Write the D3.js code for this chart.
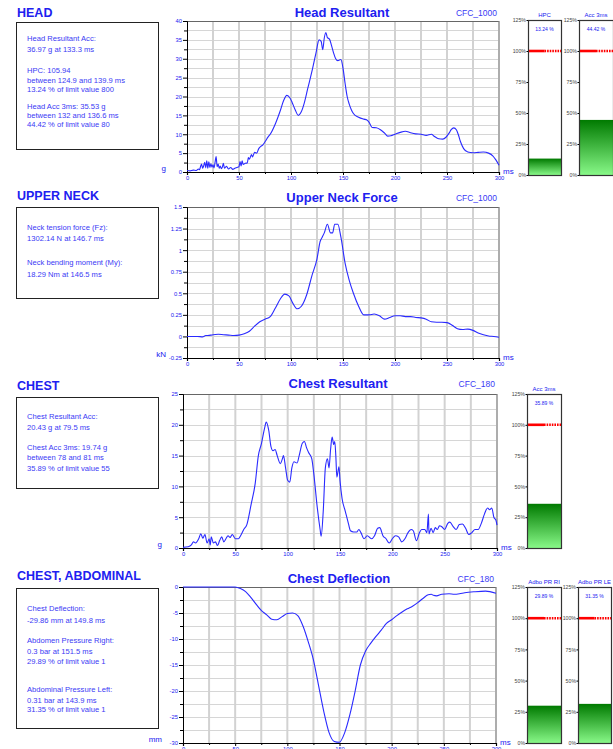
<!DOCTYPE html>
<html>
<head>
<meta charset="utf-8">
<script src="https://cdn.jsdelivr.net/npm/d3@7"></script>
<style>
  body { margin: 0; background: #fff; }
  svg { display: block; font-family: 'Liberation Sans', Arial, sans-serif; }
</style>
</head>
<body>
<div id="chart"></div>
<script>
// ---- data ----
const headTime = [0,3,6,9,11,12,13,14,15,16,17,18,19,20,21,22,23,24,25,26,27,28,29,30,31,32,33,34,35,36,38,40,42,44,46,48,50,51,52,53,54,56,58,59,60,62,63,65,67,69,71,73,75,78,80,85,90,93,96,99,101,104,107,110,113,116,120,124,127,129,130.5,132,133.5,135,137,139,141,143,145,148,150,152,154,156,158,160,165,170,173,175,178,182,186,190,193,196,200,205,210,215,220,225,230,235,238,242,246,249,252,254,256.5,259,261,263,266,270,275,280,285,290,294,297,300]
const headAcc = [0.4,0.3,0.5,0.4,0.8,0.6,1.4,2.1,1.0,1.6,2.6,1.1,3.0,1.0,2.7,1.2,2.2,1.3,1.9,1.1,2.6,4.1,1.4,2.1,1.0,1.6,0.9,1.3,2.3,1.0,1.5,0.8,1.2,0.7,1.0,1.2,1.4,2.8,1.6,3.0,2.0,2.3,2.4,3.8,3.4,4.6,4.0,5.2,5.0,6.2,6.8,7.2,8.0,9.3,10.0,12.8,16.5,19.0,20.3,19.6,18.5,16.5,15.0,16.0,18.5,22.0,26.5,31.5,35.0,34.6,32.4,35.5,36.97,35.6,35.2,33.5,31.5,30.0,29.5,29.8,27.5,23.5,20.0,18.0,16.5,15.5,14.5,14.0,13.8,13.2,11.8,11.7,11.2,10.3,9.5,9.6,10.0,10.5,10.8,10.4,10.1,10.0,9.7,10.0,9.4,8.8,8.7,9.2,10.3,11.2,11.7,11.2,9.8,8.0,6.2,5.3,5.1,5.2,5.3,5.0,4.3,3.2,1.8]

const neckTime = [0,10,15,18,20,25,30,35,40,45,50,55,60,65,70,75,80,85,90,94,98,102,106,110,115,120,125,128,130,132,135,138,140,142,145,148,152,156,160,165,170,175,180,185,190,195,200,205,210,215,220,225,230,235,240,245,250,255,260,265,270,275,280,285,290,295,300]
const neckForce = [0,0,-0.005,0.01,0.01,0.02,0.025,0.02,0.015,0.01,0.015,0.03,0.06,0.12,0.17,0.2,0.23,0.33,0.44,0.49,0.47,0.38,0.32,0.35,0.48,0.7,0.9,1.1,1.15,1.2,1.3,1.2,1.2,1.3,1.3,1.15,0.85,0.65,0.5,0.35,0.25,0.25,0.26,0.24,0.2,0.22,0.24,0.24,0.23,0.23,0.22,0.215,0.2,0.17,0.165,0.165,0.16,0.13,0.09,0.08,0.085,0.07,0.04,0.02,0.005,0,-0.01]

const chestTime = [0,5,8,10,12,15,17,19,21,23,25,26,27,29,31,33,35,37,39,41,43,45,47,50,53,55,58,61,65,69,72,75,78,79.5,82,84,86,88,90,93,95,96,98,100,102,104,106,109,111,114,116,118,120,123,125,128,131,132,134,136,138,139.5,141,142.5,144,145,146,147,149,150,152,155,158,160,163,166,168,170,173,176,180,183,186,188,191,194,197,200,203,206,209,212,215,218,220,223,226,228,231,233,234.5,235,237,239,241,243,245,247,250,253,255,258,261,264,267,270,273,276,279,282,285,288,291,293,295,297,299,300]
const chestAcc = [0.1,0.2,0.5,1.0,0.8,1.5,2.3,1.6,2.2,0.8,1.5,0.5,1.8,0.8,1.0,0.4,1.2,1.8,1.0,1.5,2.0,1.7,2.2,1.5,1.5,2.0,3.0,3.8,7.0,10.5,15.0,17.0,19.5,20.43,19.0,16.5,15.8,16.0,15.0,13.7,14.5,15.0,13.0,11.0,10.7,13.0,14.0,13.8,15.0,17.0,17.3,16.3,15.5,14.5,12.0,7.0,3.0,1.9,6.0,13.0,14.5,13.0,16.0,18.0,16.8,17.3,15.0,11.5,13.2,11.0,8.0,6.0,4.0,2.8,2.6,2.6,3.0,2.5,1.5,2.0,1.5,2.0,3.2,3.3,2.0,1.5,0.8,1.5,2.0,1.8,1.0,1.5,2.5,3.0,2.8,1.2,2.5,3.0,3.0,2.5,5.5,2.3,3.2,2.5,3.3,3.0,3.6,3.5,3.0,4.0,4.2,3.5,3.0,3.8,3.9,3.2,2.2,2.5,3.0,3.0,4.0,5.5,6.5,6.2,6.5,5.0,4.5,3.7]

const deflTime = [0,50,55,60,65,70,75,80,85,90,95,100,105,110,115,120,125,130,135,140,145,149.8,155,160,165,170,175,180,185,190,195,200,205,210,215,220,225,230,235,238,240,243,248,255,260,265,270,280,290,300]
const deflValue = [0,0,-0.3,-0.9,-2,-3.3,-4.5,-5.3,-6.2,-6.3,-5.7,-5.1,-5,-5.5,-7.5,-10.5,-14,-19,-24,-28,-29.7,-29.86,-28,-24.5,-20,-15,-12.3,-10.8,-9.5,-8.3,-7,-6.3,-5.5,-4.8,-4.2,-3.7,-3,-2.2,-1.5,-1.4,-1.6,-1.7,-1.4,-1.3,-1.4,-1.3,-1.1,-0.9,-0.8,-1.2]

const xTicks = [0,50,100,150,200,250,300]
const headYTicks = [0,5,10,15,20,25,30,35,40]
const neckYTicks = [-0.25,0,0.25,0.5,0.75,1,1.25,1.5]
const chestYTicks = [0,5,10,15,20,25]
const deflYTicks = [-30,-25,-20,-15,-10,-5,0]
const gaugeTicks = [0,25,50,75,100,125]

const sectionNames = ['HEAD', 'UPPER NECK', 'CHEST', 'CHEST, ABDOMINAL']
const chartTitles = ['Head Resultant', 'Upper Neck Force', 'Chest Resultant', 'Chest Deflection']
const filterLabels = ['CFC_1000', 'CFC_1000', 'CFC_180', 'CFC_180']
const unitLabels = ['g', 'kN', 'g', 'mm']

const headInfo = ['Head Resultant Acc:', '36.97 g at 133.3 ms', 'HPC: 105.94', 'between 124.9 and 139.9 ms', '13.24 % of limit value 800', 'Head Acc 3ms: 35.53 g', 'between 132 and 136.6 ms', '44.42 % of limit value 80']
const neckInfo = ['Neck tension force (Fz):', '1302.14 N at 146.7 ms', 'Neck bending moment (My):', '18.29 Nm at 146.5 ms']
const chestInfo = ['Chest Resultant Acc:', '20.43 g at 79.5 ms', 'Chest Acc 3ms: 19.74 g', 'between 78 and 81 ms', '35.89 % of limit value 55']
const abdoInfo = ['Chest Deflection:', '-29.86 mm at 149.8 ms', 'Abdomen Pressure Right:', '0.3 bar at 151.5 ms', '29.89 % of limit value 1', 'Abdominal Pressure Left:', '0.31 bar at 143.9 ms', '31.35 % of limit value 1']

const gaugeNames = ['HPC', 'Acc 3ms', 'Acc 3ms', 'Adbo PR RI', 'Adbo PR LE']
const gaugePercent = [13.24, 44.42, 35.89, 29.89, 31.35]

// ---- drawing ----
const blue = '#2020f0'
const textBlue = '#3a3af5'

const svg = d3.select('#chart').append('svg').attr('width', 613).attr('height', 749)

const defs = svg.append('defs')
const grad = defs.append('linearGradient').attr('id', 'greenFill')
  .attr('x1', 0).attr('y1', 0).attr('x2', 0).attr('y2', 1)
grad.append('stop').attr('offset', '0%').attr('stop-color', '#007a00')
grad.append('stop').attr('offset', '100%').attr('stop-color', '#88f888')

// left heading + info box
const drawInfo = (heading, headingY, box, lines, lineYs) => {
  svg.append('text').attr('x', 17).attr('y', headingY)
    .attr('font-size', 12.5).attr('font-weight', 'bold').attr('fill', blue)
    .text(heading)
  svg.append('rect').attr('x', box[0] + 0.5).attr('y', box[1] + 0.5)
    .attr('width', box[2]).attr('height', box[3])
    .attr('fill', 'none').attr('stroke', '#222').attr('stroke-width', 1)
  lines.forEach((l, i) => {
    svg.append('text').attr('x', 27).attr('y', lineYs[i])
      .attr('font-size', 7.6).attr('fill', textBlue).text(l)
  })
}

drawInfo(sectionNames[0], 17, [16, 22, 142, 127], headInfo, [41, 52, 73, 82.5, 92, 109, 118, 126.5])
drawInfo(sectionNames[1], 200, [16, 207, 142, 91], neckInfo, [229.5, 241, 264.5, 276.5])
drawInfo(sectionNames[2], 390, [16, 397, 142, 91], chestInfo, [418.5, 430, 450, 460, 471])
drawInfo(sectionNames[3], 580, [16, 588, 142, 140], abdoInfo, [610.5, 623, 643, 654, 664, 691.5, 702.5, 712])

// a time-history panel
const drawPanel = (cfg) => {
  const { left, right, top, bottom, domain, yTicks, minorStep, times, values, idx, titleX, titleY, yFormat } = cfg
  const xScale = d3.scaleLinear().domain([0, 300]).range([left, right])
  const yScale = d3.scaleLinear().domain(domain).range([bottom, top])
  const g = svg.append('g')

  // minor horizontal grid
  const minorY = d3.range(domain[0], domain[1] + minorStep / 2, minorStep)
  g.selectAll('.hgrid').data(minorY).join('line')
    .attr('x1', left).attr('x2', right)
    .attr('y1', d => Math.round(yScale(d)) + 0.5).attr('y2', d => Math.round(yScale(d)) + 0.5)
    .attr('stroke', '#d6d6d6').attr('stroke-width', 1.2)
  // vertical grid every 25 ms
  g.selectAll('.vgrid').data(d3.range(25, 301, 25)).join('line')
    .attr('x1', d => xScale(d)).attr('x2', d => xScale(d))
    .attr('y1', top).attr('y2', bottom)
    .attr('stroke', '#d2d2d2').attr('stroke-width', 2)
  // frame top / right
  g.append('line').attr('x1', left).attr('x2', right).attr('y1', top + 0.5).attr('y2', top + 0.5)
    .attr('stroke', '#666').attr('stroke-width', 1.2)
  g.append('line').attr('x1', right).attr('x2', right).attr('y1', top).attr('y2', bottom)
    .attr('stroke', '#888').attr('stroke-width', 1)

  // y axis
  const yAxis = d3.axisLeft(yScale).tickValues(yTicks).tickSize(4).tickPadding(1).tickFormat(yFormat)
  const yg = g.append('g').attr('transform', `translate(${left},0)`).call(yAxis)
  yg.selectAll('text').attr('font-size', 5.8).attr('fill', blue)
  yg.select('.domain').attr('stroke', '#000')
  const minorAxis = d3.axisLeft(yScale).tickValues(minorY.filter(v => !yTicks.includes(+v.toFixed(4)))).tickSize(3).tickFormat('')
  g.append('g').attr('transform', `translate(${left},0)`).call(minorAxis).select('.domain').remove()

  // x axis
  const xAxis = d3.axisBottom(xScale).tickValues(xTicks).tickSize(3).tickPadding(1)
  const xg = g.append('g').attr('transform', `translate(0,${bottom})`).call(xAxis)
  xg.selectAll('text').attr('font-size', 5.8).attr('fill', blue)
  xg.select('.domain').attr('stroke', '#000').attr('stroke-width', 1.2)
  const xMinor = d3.axisBottom(xScale).tickValues(d3.range(25, 300, 50)).tickSize(2).tickFormat('')
  g.append('g').attr('transform', `translate(0,${bottom})`).call(xMinor).select('.domain').remove()

  // the curve
  const pts = times.map((t, i) => [t, values[i]])
  const line = d3.line().x(d => xScale(d[0])).y(d => yScale(d[1])).curve(d3.curveMonotoneX)
  g.append('path').datum(pts).attr('d', line)
    .attr('fill', 'none').attr('stroke', '#2a2aff').attr('stroke-width', 1.1)

  // titles and units
  g.append('text').attr('x', titleX).attr('y', titleY).attr('text-anchor', 'middle')
    .attr('font-size', 13).attr('font-weight', 'bold').attr('fill', blue).text(chartTitles[idx])
  g.append('text').attr('x', right - 2).attr('y', titleY - 1).attr('text-anchor', 'end')
    .attr('font-size', 8.5).attr('fill', textBlue).text(filterLabels[idx])
  g.append('text').attr('x', left - 21).attr('y', bottom - 1).attr('text-anchor', 'end')
    .attr('font-size', 8).attr('fill', blue).text(unitLabels[idx])
  g.append('text').attr('x', right + 4).attr('y', bottom + 2)
    .attr('font-size', 8).attr('fill', blue).text('ms')
}

const plainFormat = d => String(d)

drawPanel({ left: 187, right: 499, top: 21, bottom: 172, domain: [0, 40], yTicks: headYTicks, minorStep: 2.5,
  times: headTime, values: headAcc, idx: 0, titleX: 342, titleY: 17, yFormat: plainFormat })
drawPanel({ left: 187, right: 499, top: 207, bottom: 358, domain: [-0.25, 1.5], yTicks: neckYTicks, minorStep: 0.125,
  times: neckTime, values: neckForce, idx: 1, titleX: 342, titleY: 202, yFormat: plainFormat })
drawPanel({ left: 183, right: 497, top: 394, bottom: 548, domain: [0, 25], yTicks: chestYTicks, minorStep: 2.5,
  times: chestTime, values: chestAcc, idx: 2, titleX: 338, titleY: 388, yFormat: plainFormat })
drawPanel({ left: 183, right: 496, top: 587, bottom: 743, domain: [-30, 0], yTicks: deflYTicks, minorStep: 2.5,
  times: deflTime, values: deflValue, idx: 3, titleX: 339, titleY: 583, yFormat: plainFormat })

// limit gauges
const drawGauge = (x, top, w, bottom, gi) => {
  const yScale = d3.scaleLinear().domain([0, 125]).range([bottom, top])
  const g = svg.append('g')
  g.append('rect').attr('x', x).attr('y', yScale(gaugePercent[gi]))
    .attr('width', w).attr('height', bottom - yScale(gaugePercent[gi]))
    .attr('fill', 'url(#greenFill)')
  g.append('rect').attr('x', x + 0.5).attr('y', top + 0.5).attr('width', w).attr('height', bottom - top)
    .attr('fill', 'none').attr('stroke', '#333').attr('stroke-width', 1.2)
  const y100 = yScale(100)
  g.append('line').attr('x1', x + 1).attr('x2', x + w * 0.5).attr('y1', y100).attr('y2', y100)
    .attr('stroke', '#ff0000').attr('stroke-width', 2.6)
  g.append('line').attr('x1', x + w * 0.5).attr('x2', x + w).attr('y1', y100).attr('y2', y100)
    .attr('stroke', '#ff0000').attr('stroke-width', 2.6).attr('stroke-dasharray', '1.6,1')
  const axis = d3.axisLeft(yScale).tickValues(gaugeTicks).tickSize(1.5).tickPadding(0.5).tickFormat(d => d + '%')
  const ag = g.append('g').attr('transform', `translate(${x},0)`).call(axis)
  ag.select('.domain').remove()
  ag.selectAll('text').attr('font-size', 5.2).attr('fill', '#444')
  g.append('text').attr('x', x + w / 2).attr('y', top - 3).attr('text-anchor', 'middle')
    .attr('font-size', 6).attr('fill', blue).text(gaugeNames[gi])
  g.append('text').attr('x', x + w / 2).attr('y', top + 11).attr('text-anchor', 'middle')
    .attr('font-size', 5).attr('fill', blue).text(gaugePercent[gi] + ' %')
}

drawGauge(528, 20, 33, 175, 0)
drawGauge(579, 20, 34, 175, 1)
drawGauge(527, 394, 34, 548, 2)
drawGauge(527, 587, 34, 743, 3)
drawGauge(578, 587, 33, 743, 4)
</script>
</body>
</html>
